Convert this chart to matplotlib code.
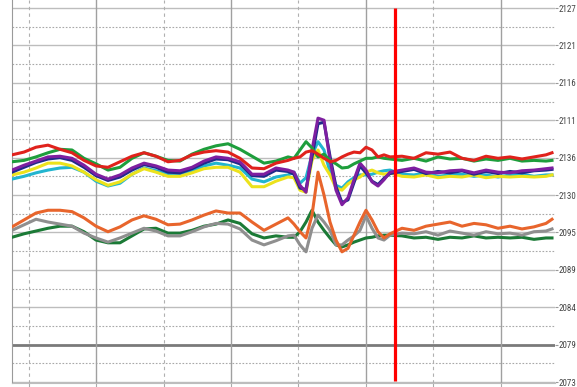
import numpy as np
import matplotlib
matplotlib.use('Agg')
import matplotlib.pyplot as plt

# time axis (samples), denser around the disturbance
t = [0, 12, 24, 36, 48, 60, 72, 84, 96, 108, 120, 132, 144, 156, 168, 180, 192, 204, 216, 228, 240, 252, 264, 276,
     282, 288, 294, 300, 306, 312, 318, 324, 330, 336, 342, 348, 354, 360, 366, 372, 378,
     390, 402, 414, 426, 438, 450, 462, 474, 486, 498, 510, 522, 534, 540]

red = [2105.8, 2106.2, 2106.9, 2107.2, 2106.6, 2106.1, 2105.0, 2104.2, 2104.0, 2104.8, 2105.6, 2106.1, 2105.6, 2104.8, 2105.0, 2105.8, 2106.2, 2106.4, 2106.2, 2105.3, 2103.9, 2103.8, 2104.6, 2105.0,
       2105.3, 2105.5, 2106.2, 2106.4, 2105.9, 2105.3, 2104.8, 2105.0, 2105.5, 2105.9, 2106.2, 2106.1, 2106.9, 2106.5, 2105.5, 2105.8, 2105.5,
       2105.6, 2105.3, 2106.1, 2105.9, 2106.2, 2105.3, 2105.0, 2105.6, 2105.3, 2105.5, 2105.2, 2105.5, 2105.8, 2106.1]
green = [2104.8, 2105.0, 2105.5, 2106.1, 2106.6, 2106.5, 2105.3, 2104.5, 2103.6, 2104.0, 2105.3, 2106.1, 2105.6, 2105.0, 2104.9, 2105.9, 2106.6, 2107.1, 2107.4, 2106.6, 2105.6, 2104.6, 2104.9, 2105.5,
         2105.3, 2106.5, 2107.7, 2106.8, 2105.5, 2105.9, 2105.0, 2104.5, 2103.9, 2104.0, 2104.5, 2104.9, 2105.3, 2105.3, 2105.5, 2105.3, 2105.2,
         2105.0, 2105.3, 2104.9, 2105.5, 2105.2, 2105.3, 2104.9, 2105.2, 2105.0, 2105.3, 2104.9, 2105.0, 2104.9, 2105.0]
purple = [2103.6, 2104.3, 2104.9, 2105.5, 2105.6, 2105.3, 2104.3, 2103.0, 2102.3, 2102.9, 2103.9, 2104.6, 2104.2, 2103.6, 2103.5, 2104.0, 2104.9, 2105.5, 2105.3, 2104.8, 2103.0, 2103.0, 2103.9, 2103.6,
          2103.3, 2101.4, 2100.4, 2106.5, 2111.1, 2110.8, 2105.0, 2100.7, 2098.6, 2099.6, 2102.2, 2104.6, 2103.6, 2101.9, 2101.3, 2102.2, 2103.3,
          2103.6, 2103.9, 2103.3, 2103.2, 2103.5, 2103.6, 2103.2, 2103.6, 2103.3, 2103.2, 2103.5, 2103.6, 2103.8, 2103.9]
navy = [2103.3, 2104.0, 2104.7, 2105.2, 2105.4, 2105.0, 2104.0, 2102.8, 2102.1, 2102.6, 2103.6, 2104.4, 2104.0, 2103.3, 2103.2, 2103.8, 2104.6, 2105.2, 2105.1, 2104.5, 2102.8, 2102.7, 2103.6, 2103.4,
        2103.0, 2101.0, 2100.8, 2105.5, 2110.3, 2110.5, 2105.6, 2101.2, 2098.9, 2099.3, 2101.8, 2104.2, 2103.2, 2102.0, 2101.5, 2102.4, 2103.1,
        2103.4, 2103.7, 2103.1, 2103.4, 2103.2, 2103.5, 2103.0, 2103.4, 2103.1, 2103.4, 2103.2, 2103.5, 2103.6, 2103.7]
yellow = [2102.9, 2103.3, 2103.9, 2104.6, 2104.6, 2104.2, 2103.3, 2102.2, 2101.4, 2101.9, 2103.0, 2103.8, 2103.3, 2102.7, 2102.7, 2103.2, 2103.8, 2104.0, 2104.0, 2103.3, 2101.2, 2101.2, 2102.0, 2102.6,
          2102.5, 2100.7, 2100.4, 2105.0, 2106.5, 2104.3, 2102.9, 2101.0, 2100.7, 2101.6, 2102.2, 2102.6, 2103.3, 2103.6, 2103.2, 2103.0, 2103.2,
          2102.7, 2102.6, 2102.9, 2102.5, 2102.7, 2102.6, 2102.9, 2102.5, 2102.7, 2102.6, 2102.7, 2102.6, 2102.7, 2102.9]
cyan = [2102.3, 2102.7, 2103.2, 2103.6, 2103.9, 2104.0, 2103.3, 2102.0, 2101.3, 2101.7, 2103.0, 2103.9, 2103.5, 2103.0, 2103.0, 2103.5, 2104.2, 2104.6, 2104.3, 2103.9, 2102.3, 2101.9, 2102.6, 2102.9,
        2103.3, 2101.7, 2102.5, 2105.8, 2107.7, 2106.5, 2103.3, 2101.4, 2101.0, 2101.9, 2102.5, 2102.9, 2102.9, 2103.0, 2103.3, 2103.5, 2103.6,
        2103.0, 2102.9, 2103.2, 2102.7, 2102.9, 2103.0, 2102.7, 2102.9, 2102.6, 2102.9, 2103.0, 2102.7, 2102.9, 2102.9]
orange = [2095.4, 2096.4, 2097.4, 2097.8, 2097.8, 2097.6, 2096.7, 2095.5, 2094.7, 2095.4, 2096.4, 2097.0, 2096.5, 2095.7, 2095.8, 2096.4, 2097.1, 2097.7, 2097.4, 2097.4, 2096.1, 2094.9, 2095.8, 2096.7,
          2095.8, 2094.7, 2093.8, 2097.1, 2103.3, 2100.0, 2096.1, 2093.5, 2091.8, 2092.3, 2094.2, 2096.1, 2097.8, 2096.4, 2094.7, 2093.8, 2094.4,
          2095.2, 2094.9, 2095.5, 2095.8, 2096.1, 2095.5, 2095.9, 2095.7, 2095.2, 2095.5, 2095.1, 2095.4, 2095.9, 2096.5]
gray = [2094.9, 2095.7, 2096.5, 2096.1, 2095.8, 2095.5, 2094.5, 2093.8, 2093.2, 2093.8, 2094.5, 2095.2, 2094.8, 2094.1, 2094.1, 2094.7, 2095.4, 2095.9, 2095.8, 2095.1, 2093.5, 2092.8, 2093.4, 2094.1,
        2094.2, 2092.8, 2091.8, 2095.2, 2097.1, 2096.1, 2094.9, 2092.8, 2092.8, 2093.5, 2094.1, 2094.9, 2097.0, 2095.2, 2093.8, 2093.5, 2094.2,
        2094.5, 2094.4, 2094.7, 2094.2, 2094.8, 2094.5, 2094.2, 2094.7, 2094.4, 2094.5, 2094.2, 2094.7, 2094.8, 2095.1]
dkgreen = [2093.9, 2094.4, 2094.8, 2095.2, 2095.5, 2095.5, 2094.7, 2093.5, 2093.1, 2093.1, 2094.1, 2095.1, 2095.2, 2094.5, 2094.5, 2094.9, 2095.5, 2095.8, 2096.4, 2095.9, 2094.4, 2093.8, 2094.1, 2093.9,
           2093.9, 2094.7, 2096.1, 2097.8, 2096.1, 2094.9, 2093.8, 2092.8, 2092.5, 2092.8, 2093.2, 2093.5, 2093.8, 2093.9, 2094.1, 2094.2, 2094.2,
           2094.1, 2093.8, 2093.9, 2093.6, 2093.9, 2093.8, 2094.1, 2093.8, 2093.9, 2093.8, 2093.9, 2093.6, 2093.8, 2093.8]

# y scale: 11 major levels, labels as shown on the screen
y_major = [2127.0, 2121.6, 2116.2, 2110.8, 2105.4, 2100.0, 2094.6, 2089.2, 2083.8, 2078.4, 2073.0]
y_labels = ['2127', '2121', '2116', '2111', '2136', '2130', '2095', '2089', '2084', '2079', '2073']
x_major = [84, 219, 354, 489]
x_minor = [17, 152, 286, 421]
marker_t = 383

fig = plt.figure(figsize=(5.77, 3.87), dpi=100)
ax = fig.add_axes([12 / 577, 4 / 387, 543 / 577, 383 / 387])
ax.set_xlim(0, 543)
ax.set_ylim(2072.86, 2128.155)

# grid
for i, y in enumerate(y_major):
    if y_labels[i] == '2079':
        ax.axhline(y, color='#7a7a7a', lw=2.0, zorder=1)
    else:
        ax.axhline(y, color='#bdbdbd', lw=1.0, zorder=1)
for i in range(len(y_major) - 1):
    ax.axhline((y_major[i] + y_major[i + 1]) / 2, color='#a8a8a8', lw=0.8, ls=(0, (1.5, 1.5)), zorder=1)
for x in x_major:
    ax.axvline(x, color='#a0a0a0', lw=1.0, zorder=1)
for x in x_minor:
    ax.axvline(x, color='#b0b0b0', lw=0.8, ls=(0, (3, 3)), zorder=1)

# series
lw = 2.2
ax.plot(t, cyan, color='#22b5cf', lw=lw, zorder=3)
ax.plot(t, yellow, color='#ece21c', lw=lw, zorder=3)
ax.plot(t, navy, color='#1f2a8a', lw=lw, zorder=3)
ax.plot(t, purple, color='#7e1fa0', lw=lw, zorder=3)
ax.plot(t, green, color='#1e9e3c', lw=lw, zorder=3)
ax.plot(t, red, color='#e0221c', lw=lw, zorder=3)
ax.plot(t, dkgreen, color='#1b7a36', lw=lw, zorder=3)
ax.plot(t, gray, color='#8f8f8f', lw=lw, zorder=3)
ax.plot(t, orange, color='#e8652c', lw=lw, zorder=3)

# cursor line
ax.vlines(marker_t, y_major[-1] + 0.15, y_major[0], color='#ff0000', lw=2.3, zorder=5)

ax.set_yticks(y_major)
ax.set_yticklabels(y_labels)
ax.yaxis.tick_right()
ax.tick_params(axis='y', length=2, width=0.8, color='#999999', pad=0.5, labelsize=6.5, labelcolor='#444444')
ax.set_xticks(x_major + x_minor)
ax.set_xticklabels([])
ax.tick_params(axis='x', length=3, width=0.8, color='#aaaaaa')
for lab in ax.get_yticklabels():
    lab.set_family(['Roboto Condensed', 'PT Sans Narrow', 'Liberation Sans Narrow', 'DejaVu Sans'])

ax.spines['top'].set_visible(False)
ax.spines['right'].set_visible(False)
ax.spines['left'].set_color('#9a9a9a')
ax.spines['bottom'].set_color('#bdbdbd')

fig.savefig('out.png', dpi=100)
